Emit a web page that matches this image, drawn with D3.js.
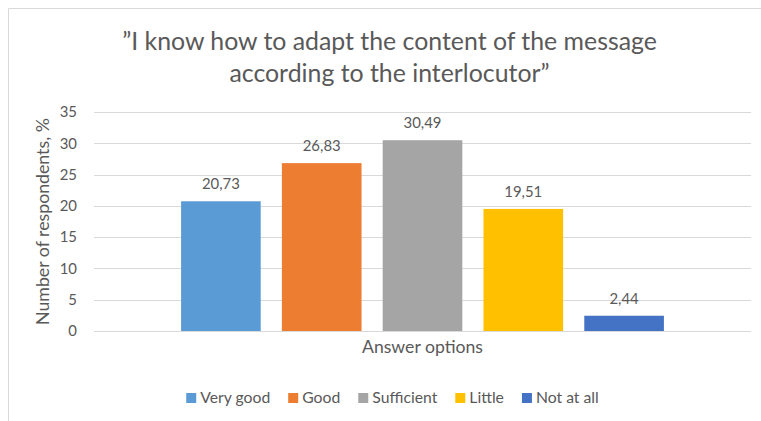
<!DOCTYPE html>
<html>
<head>
<meta charset="utf-8">
<script src="https://cdn.jsdelivr.net/npm/d3@7"></script>
<style>
  html, body { margin: 0; padding: 0; background: #fff; }
  svg { display: block; }
  text { font-family: Lato, "Open Sans", sans-serif; fill: #595959; }
</style>
</head>
<body>
<svg id="chart" width="761" height="421"></svg>
<script>
const titleLines = ["”I know how to adapt the content of the message", "according to the interlocutor”"];
const categories = ["Answer options"];
const seriesNames = ["Very good", "Good", "Sufficient", "Little", "Not at all"];
const seriesValues = [20.73, 26.83, 30.49, 19.51, 2.44];
const seriesColors = ["#5B9BD5", "#ED7D31", "#A5A5A5", "#FFC000", "#4472C4"];
const yTicks = [0, 5, 10, 15, 20, 25, 30, 35];
const yLabel = "Number of respondents, %";

const svg = d3.select("#chart");
const W = 761, H = 421;
const plot = { left: 94, right: 751, top: 112, bottom: 331 };
const centerX = 389.5;

// frame
svg.append("line").attr("x1", 8.5).attr("y1", 8.5).attr("x2", 8.5).attr("y2", H + 5)
  .attr("stroke", "#D9D9D9").attr("stroke-width", 1);
svg.append("line").attr("x1", 8.5).attr("y1", 8.5).attr("x2", W + 5).attr("y2", 8.5)
  .attr("stroke", "#D9D9D9").attr("stroke-width", 1);

function fit(sel, target) {
  const fs = parseFloat(sel.attr("font-size"));
  const w = sel.node().getComputedTextLength();
  sel.attr("font-size", fs * target / w);
  return fs * target / w;
}
function probeSize(str, target) {
  const p = svg.append("text").attr("font-size", 16).text(str);
  const fs = fit(p, target);
  p.remove();
  return fs;
}

const bodyFS = probeSize("Answer options", 121);
const numFS = probeSize("20,73", 38);
const legendFS = probeSize("Very good", 70);
const ylabFS = probeSize(yLabel, 207);

// title
const t1 = svg.append("text").attr("x", centerX).attr("y", 50).attr("text-anchor", "middle")
  .attr("font-size", 24).text(titleLines[0]);
const titleFS = fit(t1, 535);
svg.append("text").attr("x", centerX).attr("y", 82).attr("text-anchor", "middle")
  .attr("font-size", titleFS).text(titleLines[1]);

// scales
const y = d3.scaleLinear().domain([0, 35]).range([plot.bottom, plot.top]);
const x0 = d3.scaleBand().domain(categories).range([plot.left, plot.right])
  .paddingInner(0).paddingOuter(0.1518);
const x1 = d3.scaleBand().domain(seriesNames).range([0, x0.bandwidth()])
  .paddingInner(0.21).paddingOuter(0.105);

// gridlines
svg.append("g").selectAll("line").data(yTicks).join("line")
  .attr("x1", plot.left).attr("x2", plot.right)
  .attr("y1", d => Math.round(y(d)) + 0.5).attr("y2", d => Math.round(y(d)) + 0.5)
  .attr("stroke", "#D9D9D9").attr("stroke-width", 1);

// y axis
const yAxis = d3.axisLeft(y).tickValues(yTicks).tickSize(0).tickPadding(17);
const yg = svg.append("g").attr("transform", `translate(${plot.left},0)`).call(yAxis);
yg.select(".domain").remove();
yg.selectAll("text").attr("font-size", numFS).attr("fill", "#595959")
  .style("font-family", "Lato, 'Open Sans', sans-serif");

// y label
svg.append("text").attr("transform", `translate(49,${(plot.top + plot.bottom) / 2})) rotate(-90)`.replace("))", ")"))
  .attr("text-anchor", "middle").attr("font-size", ylabFS).text(yLabel);

// bars
const data = seriesNames.map((n, i) => ({ name: n, value: seriesValues[i], color: seriesColors[i] }));
const g = svg.append("g").attr("transform", `translate(${x0(categories[0])},0)`);
g.selectAll("rect").data(data).join("rect")
  .attr("x", d => x1(d.name)).attr("width", x1.bandwidth())
  .attr("y", d => y(d.value)).attr("height", d => y(0) - y(d.value))
  .attr("fill", d => d.color);
g.selectAll("text.lbl").data(data).join("text").attr("class", "lbl")
  .attr("x", d => x1(d.name) + x1.bandwidth() / 2).attr("y", d => y(d.value) - 12)
  .attr("text-anchor", "middle").attr("font-size", numFS)
  .text(d => d.value.toFixed(2).replace(".", ","));

// x axis label
svg.append("text").attr("x", x0(categories[0]) + x0.bandwidth() / 2).attr("y", 353)
  .attr("text-anchor", "middle").attr("font-size", bodyFS).text(categories[0]);

// legend
const lg = svg.append("g");
const items = lg.selectAll("g").data(data).join("g");
items.append("rect").attr("width", 10).attr("height", 10).attr("y", 393).attr("fill", d => d.color);
items.append("text").attr("y", 403).attr("font-size", legendFS).text(d => d.name);
let cx = 0;
items.each(function () {
  const it = d3.select(this);
  const w = it.select("text").node().getComputedTextLength();
  it.select("rect").attr("x", cx);
  it.select("text").attr("x", cx + 14);
  cx += 14 + w + 18;
});
const totalW = cx - 18;
lg.attr("transform", `translate(${392.5 - totalW / 2},0)`);
</script>
</body>
</html>
